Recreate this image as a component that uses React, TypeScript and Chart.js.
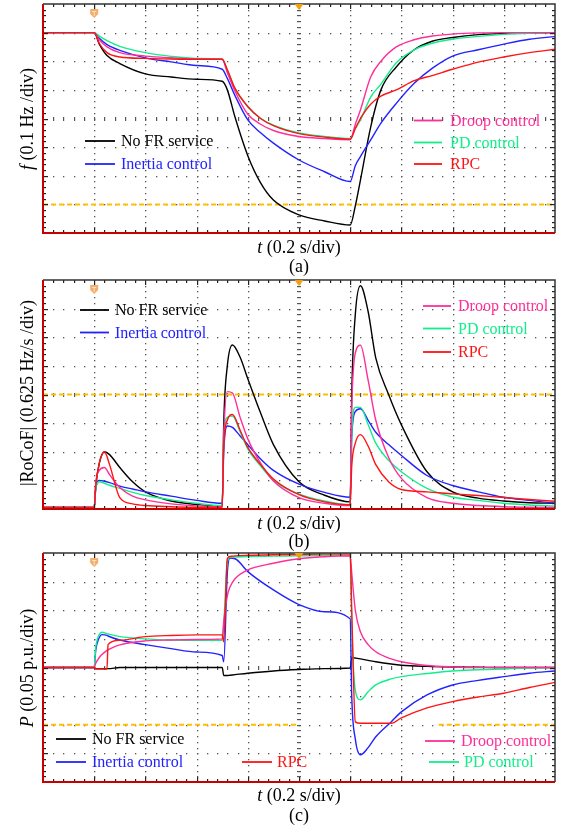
import React, { useEffect, useRef } from "react";
import { Chart, registerables } from "chart.js";

Chart.register(...registerables);

// ---------- Panel (a): frequency (divisions) ----------
const T_A = [0, 1, 1.1, 1.25, 1.5, 2, 2.5, 3, 3.5, 3.6, 3.75, 4, 4.25, 4.5, 5, 5.5, 6, 6.1, 6.2, 6.4, 6.6, 6.9, 7.25, 7.6, 8, 8.5, 9, 9.5, 10];
const A_NOFR = [7, 7, 6.6, 6.2, 5.92, 5.56, 5.45, 5.37, 5.3, 5.0, 4.05, 2.7, 1.75, 1.15, 0.63, 0.42, 0.28, 0.95, 1.85, 3.7, 5.0, 5.8, 6.4, 6.7, 6.83, 6.93, 6.97, 6.99, 7.0];
const A_INERTIA = [7, 7, 6.8, 6.58, 6.38, 6.12, 5.98, 5.85, 5.72, 5.4, 4.8, 3.95, 3.5, 3.14, 2.55, 2.14, 1.8, 2.35, 2.67, 3.25, 3.84, 4.53, 5.23, 5.75, 6.18, 6.4, 6.6, 6.77, 6.86];
const A_DROOP = [7, 7, 6.75, 6.5, 6.3, 6.18, 6.12, 6.08, 6.07, 5.6, 4.95, 4.15, 3.8, 3.58, 3.37, 3.3, 3.26, 3.8, 4.3, 5.45, 6.0, 6.5, 6.75, 6.88, 6.95, 6.99, 7.0, 7.0, 7.0];
const A_PD = [7, 7, 6.88, 6.72, 6.52, 6.3, 6.17, 6.1, 6.07, 5.7, 5.05, 4.4, 4.0, 3.77, 3.5, 3.37, 3.3, 3.65, 3.95, 4.75, 5.2, 5.95, 6.4, 6.63, 6.77, 6.87, 6.94, 6.98, 7.0];
const A_RPC = [7, 7, 6.62, 6.3, 6.15, 6.1, 6.08, 6.07, 6.07, 5.7, 5.05, 4.42, 4.0, 3.75, 3.47, 3.35, 3.28, 3.65, 4.0, 4.5, 4.78, 5.0, 5.32, 5.5, 5.72, 5.97, 6.15, 6.3, 6.42];
const REF_A_T = [0, 10];
const REF_A = [1, 1];

// ---------- Panel (b): |RoCoF| (divisions) ----------
const T_B = [0, 1, 1.03, 1.1, 1.2, 1.3, 1.5, 1.75, 2, 2.5, 3, 3.5, 3.53, 3.6, 3.7, 3.85, 4, 4.25, 4.5, 5, 5.5, 6, 6.03, 6.1, 6.2, 6.35, 6.5, 6.75, 7, 7.5, 8, 8.5, 9, 9.5, 10];
const B_NOFR = [0.05, 0.05, 0.8, 1.6, 2.0, 1.9, 1.45, 0.95, 0.6, 0.28, 0.16, 0.1, 3.0, 5.0, 5.73, 5.3, 4.55, 3.35, 2.25, 0.95, 0.48, 0.25, 4.0, 6.8, 7.8, 6.9, 5.27, 4.0, 2.94, 1.3, 0.6, 0.38, 0.28, 0.22, 0.2];
const B_INERTIA = [0.05, 0.05, 0.7, 1.0, 0.97, 0.92, 0.8, 0.7, 0.6, 0.45, 0.3, 0.2, 2.0, 2.9, 2.85, 2.55, 2.25, 1.75, 1.35, 0.87, 0.58, 0.41, 2.5, 3.4, 3.5, 3.1, 2.68, 2.25, 1.87, 1.17, 0.82, 0.6, 0.41, 0.3, 0.2];
const B_DROOP = [0.05, 0.05, 0.9, 1.35, 1.45, 1.2, 0.75, 0.45, 0.32, 0.18, 0.11, 0.08, 2.5, 4.1, 4.05, 3.2, 2.45, 1.6, 0.98, 0.4, 0.2, 0.12, 3.5, 5.45, 5.72, 4.5, 3.1, 1.8, 1.07, 0.4, 0.2, 0.12, 0.08, 0.06, 0.05];
const B_PD = [0.05, 0.05, 0.7, 0.95, 0.9, 0.83, 0.72, 0.58, 0.47, 0.32, 0.2, 0.12, 2.5, 3.2, 3.25, 2.7, 2.1, 1.5, 1.0, 0.52, 0.28, 0.15, 2.6, 3.55, 3.55, 2.95, 2.3, 1.7, 1.3, 0.72, 0.42, 0.3, 0.2, 0.14, 0.1];
const B_RPC = [0.05, 0.05, 0.8, 1.6, 2.0, 1.55, 0.4, 0.18, 0.12, 0.08, 0.06, 0.05, 2.2, 3.1, 3.3, 2.75, 2.15, 1.55, 1.05, 0.5, 0.25, 0.15, 1.5, 2.3, 2.6, 2.2, 1.55, 0.95, 0.68, 0.6, 0.53, 0.47, 0.4, 0.33, 0.27];
const REF_B_T = [0, 10];
const REF_B = [4, 4];

// ---------- Panel (c): power (divisions) ----------
const T_C = [0, 1, 1.03, 1.1, 1.15, 1.25, 1.27, 1.5, 2, 2.5, 3, 3.5, 3.53, 3.6, 3.65, 3.75, 4, 4.5, 5, 5.5, 6, 6.03, 6.1, 6.2, 6.35, 6.5, 6.8, 7, 7.5, 8, 8.5, 9, 9.5, 10];
const C_NOFR = [4, 4, 3.96, 3.96, 3.96, 3.96, 3.96, 4.0, 4.0, 4.0, 4.0, 4.0, 3.72, 3.72, 3.73, 3.75, 3.8, 3.88, 3.93, 3.96, 3.98, 4.35, 4.33, 4.3, 4.25, 4.2, 4.12, 4.08, 4.04, 4.02, 4.01, 4.0, 4.0, 4.0];
const C_INERTIA = [4, 4, 4.6, 5.05, 5.15, 5.12, 5.1, 4.96, 4.8, 4.66, 4.54, 4.42, 4.2, 7.3, 7.82, 7.8, 7.35, 6.71, 6.2, 5.95, 5.7, 3.0, 1.5, 0.95, 1.2, 1.58, 2.1, 2.45, 3.04, 3.39, 3.55, 3.68, 3.8, 3.88];
const C_DROOP = [4, 4, 4.15, 4.35, 4.45, 4.6, 4.62, 4.79, 4.93, 4.96, 4.98, 5.0, 5.6, 6.5, 6.8, 7.1, 7.41, 7.64, 7.8, 7.87, 7.9, 7.3, 6.0, 5.25, 4.8, 4.55, 4.3, 4.2, 4.07, 4.02, 4.0, 4.0, 4.0, 4.0];
const C_PD = [4, 4, 4.7, 5.15, 5.23, 5.18, 5.17, 5.08, 5.0, 4.96, 4.95, 4.95, 5.5, 7.7, 7.85, 7.86, 7.88, 7.89, 7.9, 7.91, 7.91, 5.5, 3.2, 2.87, 3.15, 3.39, 3.6, 3.68, 3.79, 3.88, 3.92, 3.95, 3.98, 4.0];
const C_RPC = [4, 4, 3.95, 3.95, 3.95, 3.95, 4.8, 4.95, 5.08, 5.12, 5.14, 5.14, 4.9, 7.8, 7.88, 7.9, 7.92, 7.94, 7.95, 7.96, 7.96, 6.0, 2.1, 2.05, 2.05, 2.05, 2.05, 2.24, 2.59, 2.81, 2.97, 3.1, 3.3, 3.48];
const REF_C_T = [0, 5, 6, 7.73, 10];
const REF_C = [2, 2, null, 2, 2];

// ---------- labels & colours ----------
const LABELS = ["No FR service", "Inertia control", "Droop control", "PD control", "RPC"];
const COLORS = ["#000000", "#2222ff", "#ff2e98", "#12ee8a", "#ff1414"];
const REF_COLOR = "#ffbf00";

type LegendItem = { s: number; x0: number; x1: number; tx: number; y: number };

const PANELS = [
  {
    top: 0, height: 240, padTop: 4, padBottom: 7,
    t: T_A, series: [A_NOFR, A_INERTIA, A_DROOP, A_PD, A_RPC], refT: REF_A_T, ref: REF_A,
    legend: [
      { s: 0, x0: 85, x1: 115, tx: 121, y: 141 },
      { s: 1, x0: 85, x1: 115, tx: 121, y: 164 },
      { s: 2, x0: 414, x1: 442, tx: 450, y: 120.5 },
      { s: 3, x0: 414, x1: 442, tx: 450, y: 142.5 },
      { s: 4, x0: 414, x1: 442, tx: 450, y: 164 },
    ] as LegendItem[],
  },
  {
    top: 272, height: 244, padTop: 8, padBottom: 7,
    t: T_B, series: [B_NOFR, B_INERTIA, B_DROOP, B_PD, B_RPC], refT: REF_B_T, ref: REF_B,
    legend: [
      { s: 0, x0: 80, x1: 109, tx: 115, y: 310 },
      { s: 1, x0: 80, x1: 109, tx: 115, y: 332.5 },
      { s: 2, x0: 423, x1: 451, tx: 458, y: 306 },
      { s: 3, x0: 423, x1: 451, tx: 458, y: 328.5 },
      { s: 4, x0: 423, x1: 451, tx: 458, y: 352 },
    ] as LegendItem[],
  },
  {
    top: 545, height: 244, padTop: 8, padBottom: 7,
    t: T_C, series: [C_NOFR, C_INERTIA, C_DROOP, C_PD, C_RPC], refT: REF_C_T, ref: REF_C,
    legend: [
      { s: 0, x0: 56, x1: 86, tx: 92, y: 739 },
      { s: 1, x0: 56, x1: 86, tx: 92, y: 762 },
      { s: 4, x0: 242, x1: 272, tx: 277, y: 762 },
      { s: 2, x0: 425, x1: 455, tx: 461, y: 741 },
      { s: 3, x0: 429, x1: 459, tx: 464, y: 762 },
    ] as LegendItem[],
  },
];

// draw order: lower "order" is drawn on top
const SERIES_ORDER = [5, 4, 2, 3, 1];

const scopePlugin = {
  id: "scope",
  beforeDatasetsDraw(chart: any) {
    const { ctx, scales } = chart;
    const x = scales.x, y = scales.y;
    ctx.save();
    ctx.fillStyle = "#555";
    for (let i = 1; i < 10; i++) {
      const px = Math.round(x.getPixelForValue(i));
      for (let k = 1; k < 40; k++) {
        const py = Math.round(y.getPixelForValue(k / 5));
        if (i === 5) ctx.fillRect(px - 2, py, 4, 1.2);
        else ctx.fillRect(px, py, 1.3, 1.3);
      }
    }
    for (let j = 1; j < 8; j++) {
      const py = Math.round(y.getPixelForValue(j));
      for (let k = 1; k < 50; k++) {
        const px = Math.round(x.getPixelForValue(k / 5));
        if (j === 4) ctx.fillRect(px, py - 2, 1.2, 4);
        else ctx.fillRect(px, py, 1.3, 1.3);
      }
    }
    ctx.restore();
  },
  afterDatasetsDraw(chart: any, _args: any, opts: any) {
    const { ctx, chartArea: a, scales } = chart;
    const x = scales.x, y = scales.y;
    ctx.save();
    // border ticks
    ctx.fillStyle = "#222";
    for (let k = 1; k < 50; k++) {
      const px = Math.round(x.getPixelForValue(k / 5));
      const len = k % 5 === 0 ? 5 : 3;
      ctx.fillRect(px, a.top, 1.2, len);
      ctx.fillRect(px, a.bottom - len, 1.2, len);
    }
    for (let k = 1; k < 40; k++) {
      const py = Math.round(y.getPixelForValue(k / 5));
      const len = k % 5 === 0 ? 5 : 3;
      ctx.fillRect(a.left, py, len, 1.2);
      ctx.fillRect(a.right - len, py, len, 1.2);
    }
    // border
    ctx.lineWidth = 1.5;
    ctx.strokeStyle = "#333";
    ctx.beginPath();
    ctx.moveTo(a.left, a.top);
    ctx.lineTo(a.right, a.top);
    ctx.lineTo(a.right, a.bottom);
    ctx.stroke();
    ctx.lineWidth = 2;
    ctx.strokeStyle = "#c80000";
    ctx.beginPath();
    ctx.moveTo(a.left, a.top);
    ctx.lineTo(a.left, a.bottom);
    ctx.lineTo(a.right, a.bottom);
    ctx.stroke();

    // trigger markers
    const m1 = x.getPixelForValue(1);
    ctx.fillStyle = "#f5ad6a";
    ctx.beginPath();
    ctx.moveTo(m1 - 4, a.top + 5);
    ctx.lineTo(m1 + 4, a.top + 5);
    ctx.lineTo(m1 + 4, a.top + 10);
    ctx.lineTo(m1, a.top + 14);
    ctx.lineTo(m1 - 4, a.top + 10);
    ctx.closePath();
    ctx.fill();
    ctx.fillStyle = "#fde3c8";
    ctx.fillRect(m1 - 2, a.top + 7, 4, 1);
    ctx.fillRect(m1 - 0.5, a.top + 7, 1, 5);
    const m5 = x.getPixelForValue(5);
    ctx.fillStyle = "#f0a010";
    ctx.beginPath();
    ctx.moveTo(m5 - 4.5, a.top);
    ctx.lineTo(m5 + 4.5, a.top);
    ctx.lineTo(m5, a.top + 6);
    ctx.closePath();
    ctx.fill();

    // legend
    const off = opts.offset || 0;
    ctx.font = '16px "Liberation Serif", serif';
    ctx.textBaseline = "middle";
    ctx.textAlign = "left";
    (opts.items || []).forEach((it: LegendItem) => {
      const yy = it.y - off;
      ctx.strokeStyle = COLORS[it.s];
      ctx.lineWidth = 1.8;
      ctx.beginPath();
      ctx.moveTo(it.x0, yy);
      ctx.lineTo(it.x1, yy);
      ctx.stroke();
      ctx.fillStyle = COLORS[it.s];
      ctx.fillText(LABELS[it.s], it.tx, yy + 1);
    });
    ctx.restore();
  },
};

function Panel({ cfg }: { cfg: (typeof PANELS)[number] }) {
  const ref = useRef<HTMLCanvasElement | null>(null);
  useEffect(() => {
    if (!ref.current) return;
    const datasets: any[] = cfg.series.map((vals, si) => ({
      label: LABELS[si],
      data: cfg.t.map((t, i) => ({ x: t, y: vals[i] })),
      borderColor: COLORS[si],
      borderWidth: 1.4,
      pointRadius: 0,
      fill: false,
      cubicInterpolationMode: "monotone",
      order: SERIES_ORDER[si],
    }));
    datasets.push({
      label: "ref",
      data: cfg.refT.map((t, i) => ({ x: t, y: cfg.ref[i] })),
      borderColor: REF_COLOR,
      borderWidth: 2,
      borderDash: [5, 3],
      pointRadius: 0,
      fill: false,
      spanGaps: false,
      order: 10,
    });
    const chart = new Chart(ref.current, {
      type: "line",
      data: { datasets },
      options: {
        animation: false,
        responsive: false,
        devicePixelRatio: 1,
        events: [],
        layout: { padding: { left: 43, right: 8, top: cfg.padTop, bottom: cfg.padBottom } },
        scales: {
          x: { type: "linear", min: 0, max: 10, display: false },
          y: { type: "linear", min: 0, max: 8, display: false },
        },
        plugins: {
          legend: { display: false },
          tooltip: { enabled: false },
          scope: { items: cfg.legend, offset: cfg.top },
        } as any,
      },
      plugins: [scopePlugin as any],
    });
    return () => chart.destroy();
  }, [cfg]);
  return (
    <canvas
      ref={ref}
      width={563}
      height={cfg.height}
      style={{ position: "absolute", left: 0, top: cfg.top, width: 563, height: cfg.height }}
    />
  );
}

const txt: React.CSSProperties = {
  position: "absolute",
  width: 300,
  height: 22,
  lineHeight: "22px",
  textAlign: "center",
  fontSize: 18,
  color: "#000",
  whiteSpace: "nowrap",
};

function Label({ cx, cy, rot, children }: { cx: number; cy: number; rot?: boolean; children: React.ReactNode }) {
  return (
    <div style={{ ...txt, left: cx - 150, top: cy - 11, transform: rot ? "rotate(-90deg)" : undefined }}>
      {children}
    </div>
  );
}

export default function App() {
  return (
    <div
      style={{
        position: "absolute",
        left: 0,
        top: 0,
        width: 563,
        height: 827,
        background: "#fff",
        fontFamily: '"Liberation Serif", "Times New Roman", serif',
        overflow: "hidden",
      }}
    >
      {PANELS.map((p, i) => (
        <Panel key={i} cfg={p} />
      ))}
      <Label cx={26.5} cy={118.5} rot>
        <i>f</i> (0.1 Hz /div)
      </Label>
      <Label cx={299} cy={247}>
        <i>t</i> (0.2 s/div)
      </Label>
      <Label cx={299} cy={265.5}>(a)</Label>

      <Label cx={26.5} cy={393} rot>
        |RoCoF| (0.625 Hz/s /div)
      </Label>
      <Label cx={299} cy={523}>
        <i>t</i> (0.2 s/div)
      </Label>
      <Label cx={299} cy={540.5}>(b)</Label>

      <Label cx={26.5} cy={667.5} rot>
        <i>P</i> (0.05 p.u./div)
      </Label>
      <Label cx={299} cy={795}>
        <i>t</i> (0.2 s/div)
      </Label>
      <Label cx={299} cy={815}>(c)</Label>
    </div>
  );
}
